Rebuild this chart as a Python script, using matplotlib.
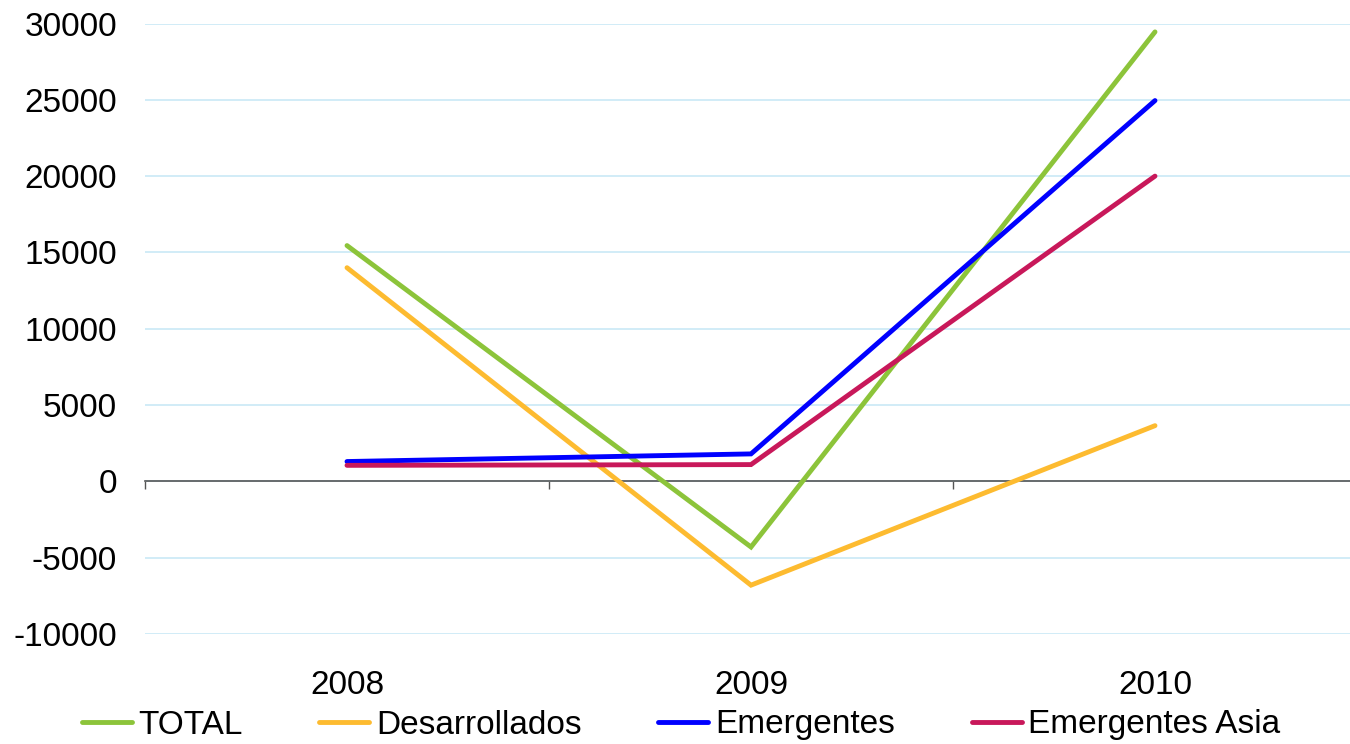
import matplotlib
matplotlib.use("Agg")
import matplotlib.pyplot as plt

years = ["2008", "2009", "2010"]
total = [15450, -4300, 29450]
desarrollados = [14000, -6800, 3650]
emergentes = [1300, 1800, 24950]
emergentes_asia = [1050, 1100, 20000]

series_names = ["TOTAL", "Desarrollados", "Emergentes", "Emergentes Asia"]
series_values = [total, desarrollados, emergentes, emergentes_asia]
series_colors = ["#8cc43a", "#fdbb30", "#0000ff", "#c8185a"]

y_ticks = list(range(-10000, 30001, 5000))

plt.rcParams["font.family"] = ["Liberation Sans", "DejaVu Sans"]
FS = 24

fig = plt.figure(figsize=(13.5, 7.44), dpi=100)
ax = fig.add_axes([145 / 1350, 110 / 744, (1357 - 145) / 1350, (634 - 23.5) / 744])

x = list(range(len(years)))
for name, vals, col in zip(series_names, series_values, series_colors):
    ax.plot(x, vals, color=col, lw=3.5, label=name,
            solid_capstyle="round", solid_joinstyle="miter")

ax.set_xlim(-0.5, len(years) - 0.5)
ax.set_ylim(-10000, 30000)
ax.set_yticks(y_ticks)
ax.set_yticklabels([str(v) for v in y_ticks], fontsize=FS)
ax.tick_params(axis="y", length=0, pad=20)
ax.grid(axis="y", color="#c9e9f6", lw=1.2)
ax.set_axisbelow(True)

for s in ["top", "right", "left"]:
    ax.spines[s].set_visible(False)
ax.spines["bottom"].set_position(("data", 0))
ax.spines["bottom"].set_color("#555555")
ax.spines["bottom"].set_linewidth(1.2)
ax.spines["bottom"].set_zorder(1.5)

# boundary ticks on the zero line
ax.set_xticks([i - 0.5 for i in range(len(years) + 1)])
ax.set_xticklabels([])
ax.tick_params(axis="x", length=6, width=1.0, color="#555555", direction="out")

# category labels below the plot
sec = ax.secondary_xaxis(0.0)
sec.set_xticks(x)
sec.set_xticklabels(years, fontsize=FS)
sec.tick_params(length=0, pad=26)
sec.spines["bottom"].set_visible(False)

handles, labels = ax.get_legend_handles_labels()
fig.legend(handles, labels, loc="center", bbox_to_anchor=(0.5 + 6 / 1350, 19 / 744),
           ncol=4, frameon=False, fontsize=FS, handlelength=1.5,
           handletextpad=0.2, columnspacing=2.3, borderaxespad=0)

fig.savefig("out.png", dpi=100)
